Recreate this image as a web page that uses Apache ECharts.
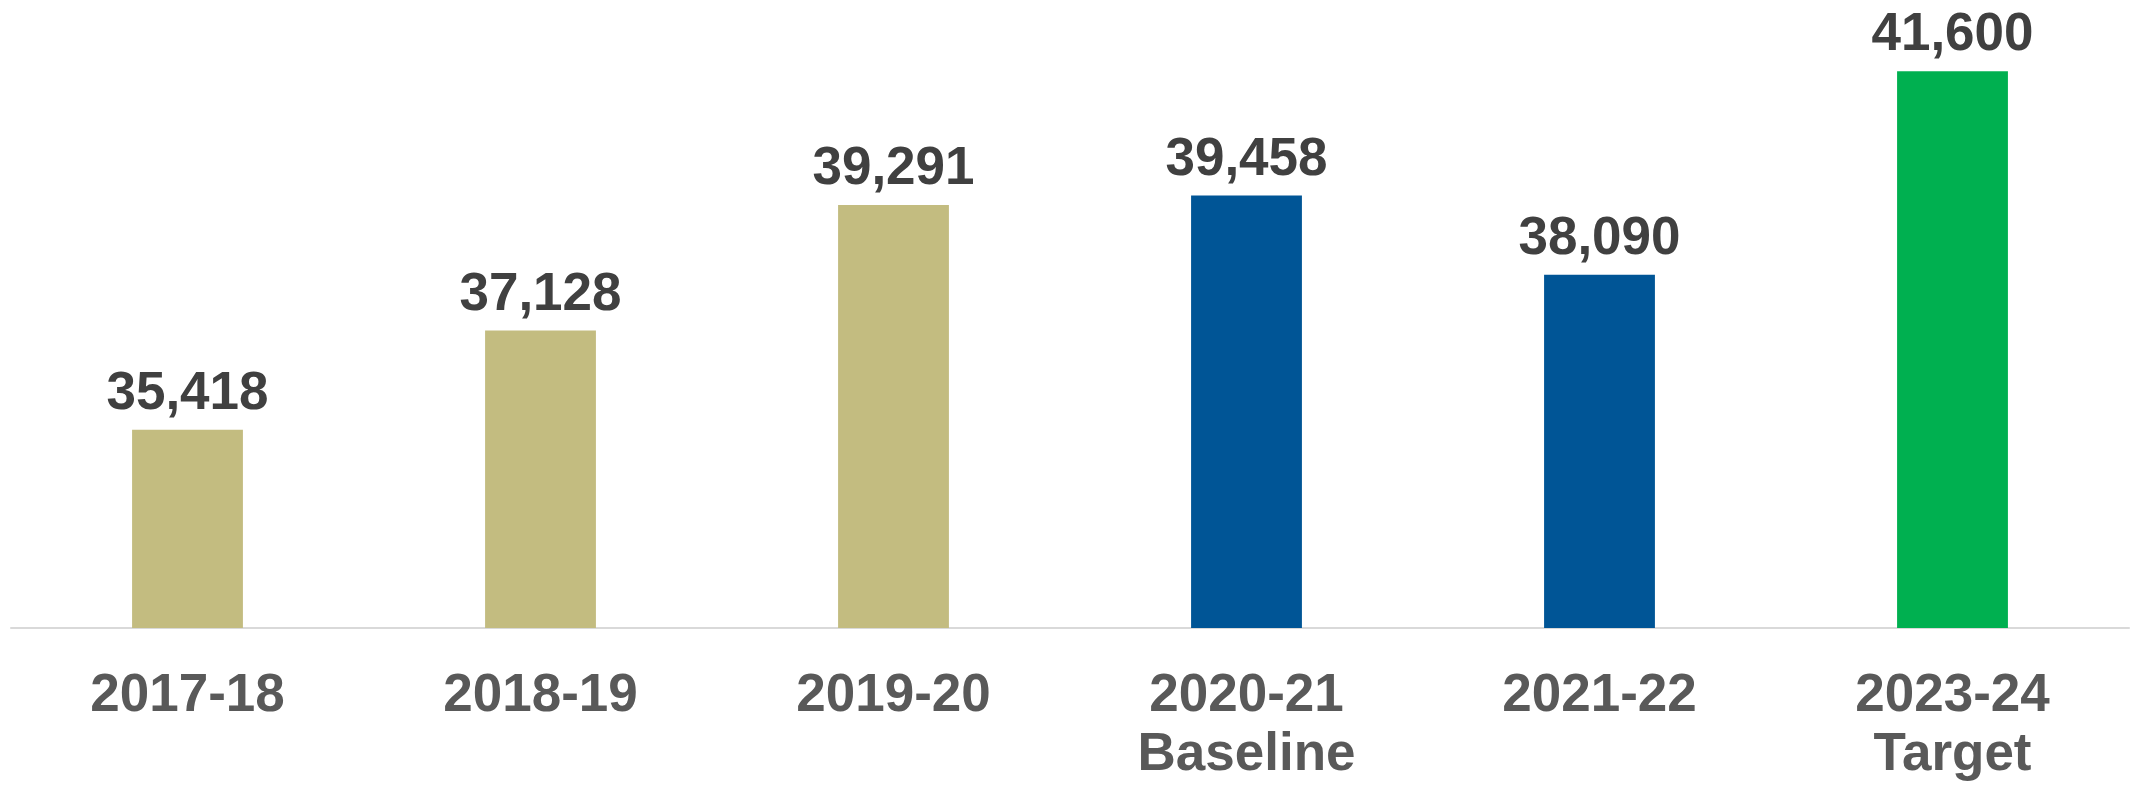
<!DOCTYPE html>
<html>
<head>
<meta charset="utf-8">
<script src="https://cdn.jsdelivr.net/npm/echarts@6/dist/echarts.min.js"></script>
<style>
html,body{margin:0;padding:0;background:#fff;}
#chart{width:2131px;height:785px;}
</style>
</head>
<body>
<div id="chart"></div>
<script>
const categories = ['2017-18', '2018-19', '2019-20', '2020-21\nBaseline', '2021-22', '2023-24\nTarget'];
const values = [35418, 37128, 39291, 39458, 38090, 41600];
const barColors = ['#C3BC80', '#C3BC80', '#C3BC80', '#005596', '#005596', '#00B050'];

const chart = echarts.init(document.getElementById('chart'));
chart.setOption({
  animation: false,
  grid: { left: 11, right: 2, top: 48, bottom: 153, containLabel: false },
  xAxis: {
    type: 'category',
    data: categories,
    axisLine: { lineStyle: { color: '#D9D9D9', width: 2 } },
    axisTick: { show: false },
    axisLabel: {
      color: '#595959',
      fontFamily: 'Liberation Sans, Arial, sans-serif',
      fontWeight: 'bold',
      fontSize: 53,
      lineHeight: 59,
      margin: 39,
      interval: 0
    }
  },
  yAxis: {
    type: 'value',
    min: 32000,
    max: 42000,
    show: false,
    splitLine: { show: false }
  },
  series: [{
    type: 'bar',
    data: values.map((v, i) => ({ value: v, itemStyle: { color: barColors[i] } })),
    barWidth: '31.4%',
    label: {
      show: true,
      position: 'top',
      distance: 9,
      color: '#404040',
      fontFamily: 'Liberation Sans, Arial, sans-serif',
      fontWeight: 'bold',
      fontSize: 53,
      formatter: p => p.value.toLocaleString('en-US')
    }
  }]
});
</script>
</body>
</html>
